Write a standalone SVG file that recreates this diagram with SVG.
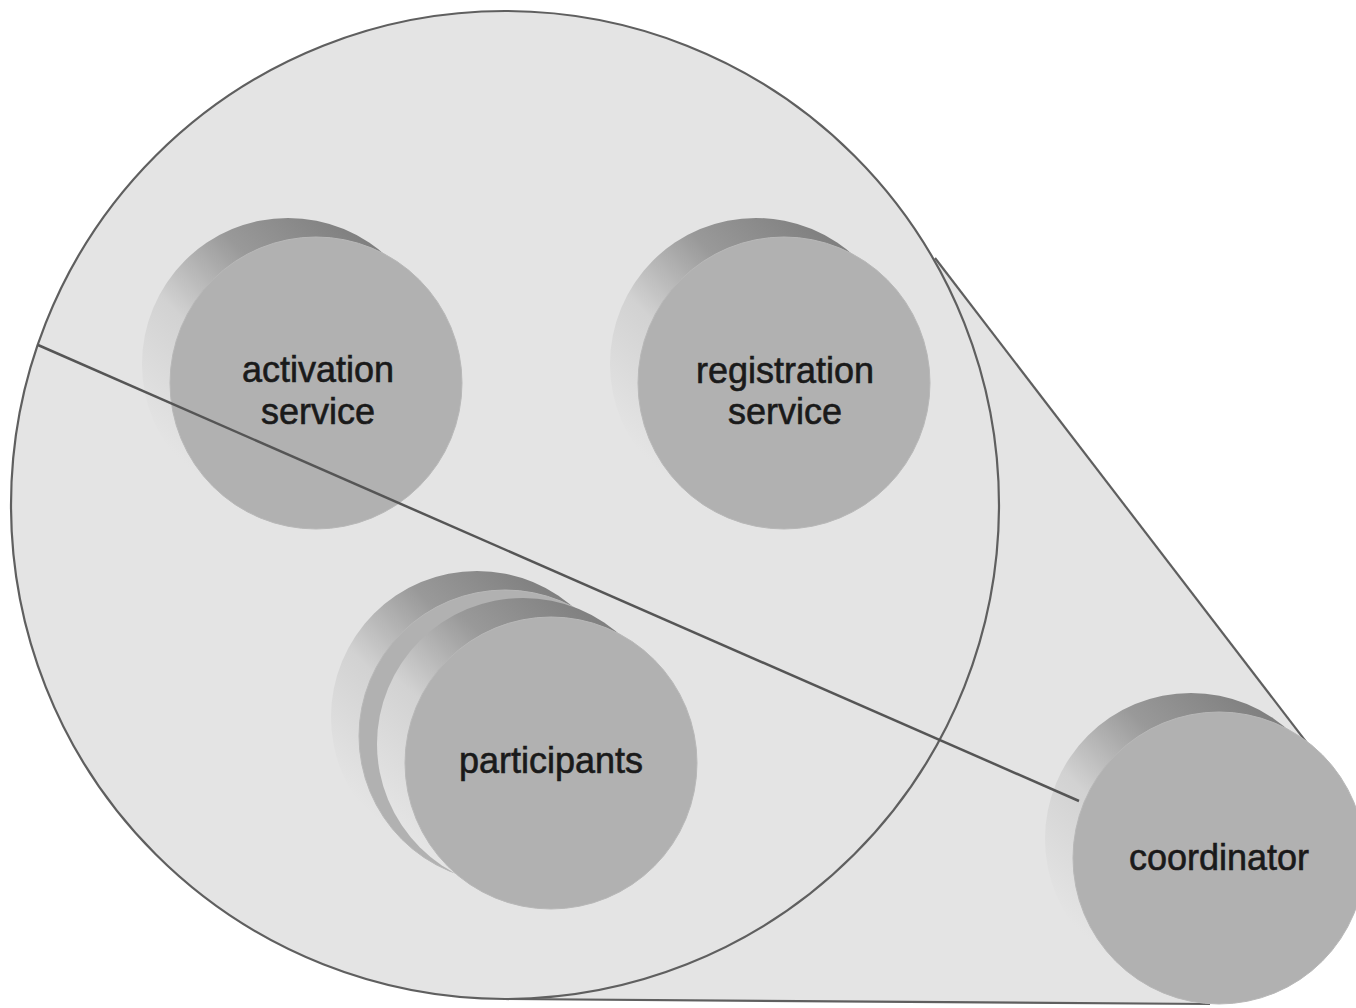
<svg xmlns="http://www.w3.org/2000/svg" xmlns:xlink="http://www.w3.org/1999/xlink" width="1356" height="1008" viewBox="0 0 1356 1008">
<style>
.outline{fill:none;stroke:#5f5f5f;stroke-width:2.2}
.face{fill:#b1b1b1;stroke:#b8b8b8;stroke-width:1}
.lbl{font-family:"Liberation Sans",Arial,Helvetica,sans-serif;font-size:36px;fill:#1a1a1a;stroke:#1a1a1a;stroke-width:0.6;text-anchor:middle}
.conn{stroke:#555;stroke-width:2.5;fill:none}
</style>
<defs>
<linearGradient id="rim" x1="0.75" y1="0" x2="0.05" y2="0.75">
<stop offset="0" stop-color="#7c7c7c"/>
<stop offset="0.35" stop-color="#999"/>
<stop offset="0.65" stop-color="#d2d2d2"/>
<stop offset="1" stop-color="#e4e4e4"/>
</linearGradient>
<g id="coin">
<circle cx="-28" cy="-19" r="146" fill="url(#rim)"/>
<circle cx="0" cy="0" r="146" class="face"/>
</g>
</defs>
<rect width="1356" height="1008" fill="#fff"/>
<g id="scope">
<path d="M935 258 L1330 773 L1219 1004 L505 999 Z" fill="#e4e4e4"/>
<circle cx="505" cy="505" r="494" fill="#e4e4e4"/>
<circle cx="505" cy="505" r="494" class="outline"/>
<line x1="935" y1="258" x2="1330" y2="773" class="outline"/>
<line x1="505" y1="999" x2="1210" y2="1004" class="outline"/>
</g>
<g id="activation-service">
<use xlink:href="#coin" x="316" y="383"/>
<text class="lbl" x="318" y="382">activation</text>
<text class="lbl" x="318" y="424">service</text>
</g>
<g id="registration-service">
<use xlink:href="#coin" x="784" y="383"/>
<text class="lbl" x="785" y="383">registration</text>
<text class="lbl" x="785" y="424">service</text>
</g>
<g id="participants">
<use xlink:href="#coin" x="505" y="736"/>
<use xlink:href="#coin" x="551" y="763"/>
<text class="lbl" x="551" y="773">participants</text>
</g>
<g id="coordinator">
<use xlink:href="#coin" x="1219" y="858"/>
<text class="lbl" x="1219" y="870">coordinator</text>
</g>
<g id="connectors">
<line x1="38" y1="345" x2="1079" y2="801" class="conn"/>
</g>
</svg>
